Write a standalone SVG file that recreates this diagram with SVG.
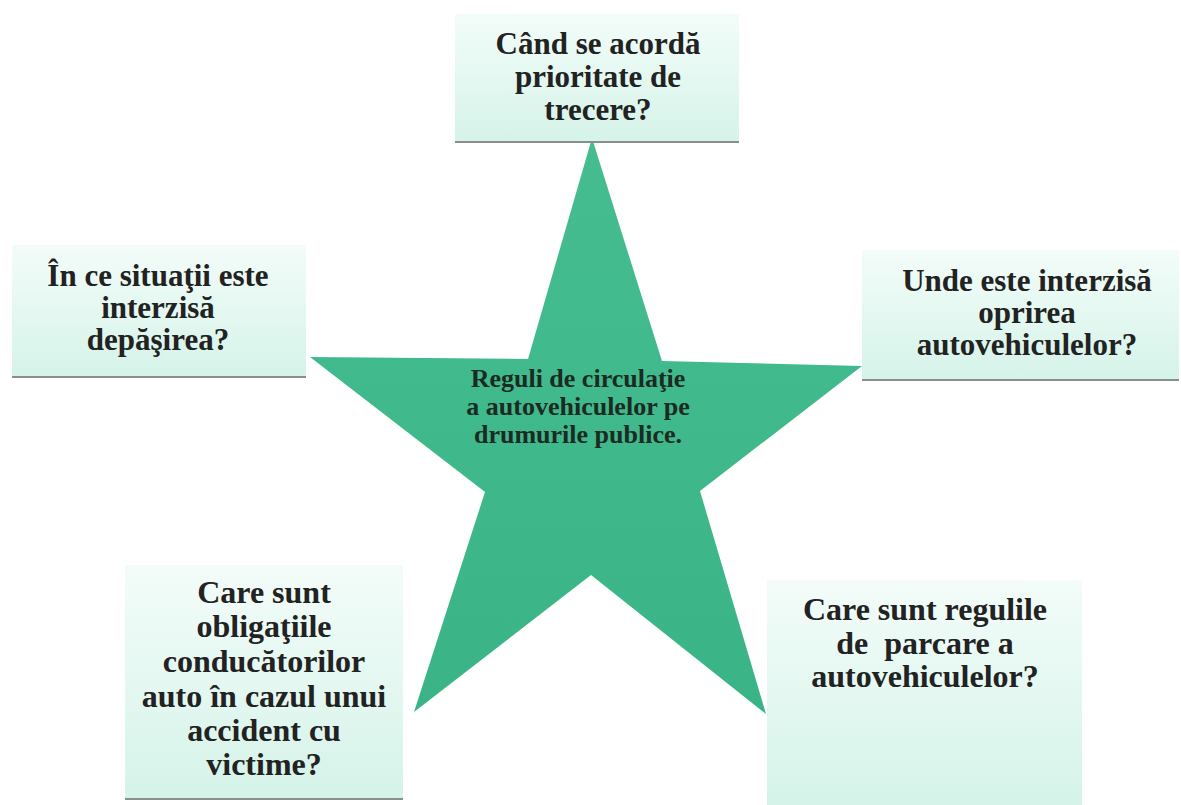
<svg xmlns="http://www.w3.org/2000/svg" width="1181" height="805" viewBox="0 0 1181 805">
<defs>
<linearGradient id="boxg" x1="0" y1="0" x2="0" y2="1">
<stop offset="0" stop-color="#f3fcf9"/>
<stop offset="0.5" stop-color="#e4f8f1"/>
<stop offset="1" stop-color="#d5f3e9"/>
</linearGradient>
<linearGradient id="starg" x1="0" y1="0" x2="0" y2="1">
<stop offset="0" stop-color="#45bd90"/>
<stop offset="1" stop-color="#3ab487"/>
</linearGradient>
<style>
.box{fill:url(#boxg);}
.shadow{fill:#8a8f8c;}
.t{font-family:"Liberation Serif","Times New Roman",serif;font-weight:bold;fill:#222;text-anchor:middle;font-size:31px;}
.c{font-family:"Liberation Serif","Times New Roman",serif;font-weight:bold;fill:#1b2a22;text-anchor:middle;font-size:26px;}
</style>
</defs>
<rect width="1181" height="805" fill="#ffffff"/>
<g id="star">
<polygon points="592,138 662,361 862,366 700,491 766,714 591,575 414,712 485,492 310,357 528,359" fill="url(#starg)"/>
<text class="c" x="578" y="387">Reguli de circulaţie</text>
<text class="c" x="578" y="415">a autovehiculelor pe</text>
<text class="c" x="578" y="443">drumurile publice.</text>
</g>
<g id="connectors"></g>
<g id="node-top">
<rect class="shadow" x="455" y="140" width="284" height="3"/>
<rect class="box" x="455" y="14" width="284" height="127"/>
<text class="t" x="598" y="54">Când se acordă</text>
<text class="t" x="598" y="87">prioritate de</text>
<text class="t" x="598" y="120">trecere?</text>
</g>
<g id="node-left">
<rect class="shadow" x="12" y="375" width="294" height="3"/>
<rect class="box" x="12" y="245" width="294" height="131"/>
<text class="t" x="158" y="286">În ce situaţii este</text>
<text class="t" x="158" y="318">interzisă</text>
<text class="t" x="158" y="350">depăşirea?</text>
</g>
<g id="node-right">
<rect class="shadow" x="862" y="378" width="317" height="3"/>
<rect class="box" x="862" y="250" width="317" height="129"/>
<text class="t" x="1027" y="291">Unde este interzisă</text>
<text class="t" x="1027" y="323">oprirea</text>
<text class="t" x="1027" y="355">autovehiculelor?</text>
</g>
<g id="node-bottom-left">
<rect class="shadow" x="125" y="797" width="278" height="3"/>
<rect class="box" x="125" y="565" width="278" height="233"/>
<text class="t" x="264" y="603" style="font-size:32px">Care sunt</text>
<text class="t" x="264" y="637" style="font-size:32px">obligaţiile</text>
<text class="t" x="264" y="672" style="font-size:32px">conducătorilor</text>
<text class="t" x="264" y="707" style="font-size:32px">auto în cazul unui</text>
<text class="t" x="264" y="741" style="font-size:32px">accident cu</text>
<text class="t" x="264" y="775" style="font-size:32px">victime?</text>
</g>
<g id="node-bottom-right">
<rect class="box" x="767" y="580" width="315" height="225"/>
<text class="t" x="925" y="620" style="font-size:32px">Care sunt regulile</text>
<text class="t" x="925" y="654" style="font-size:32px" xml:space="preserve">de  parcare a</text>
<text class="t" x="925" y="687" style="font-size:32px">autovehiculelor?</text>
</g>
</svg>
